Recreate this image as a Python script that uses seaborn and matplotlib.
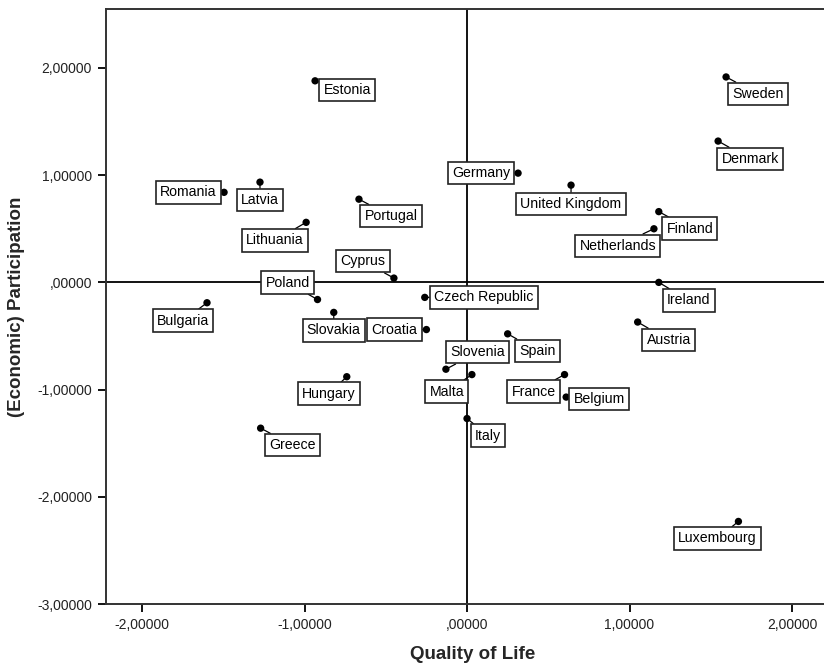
import matplotlib
matplotlib.use("Agg")
import matplotlib.pyplot as plt
import matplotlib.ticker as mticker
import seaborn as sns
import pandas as pd

countries = ["Estonia", "Sweden", "Denmark", "Germany", "Romania", "Latvia",
             "United Kingdom", "Portugal", "Lithuania", "Finland", "Netherlands",
             "Cyprus", "Ireland", "Czech Republic", "Poland", "Bulgaria",
             "Slovakia", "Croatia", "Spain", "Austria", "Slovenia", "Malta",
             "Hungary", "France", "Belgium", "Italy", "Greece", "Luxembourg"]
quality_of_life = [-0.935, 1.594, 1.545, 0.314, -1.495, -1.274,
                   0.640, -0.665, -0.990, 1.180, 1.150,
                   -0.450, 1.180, -0.260, -0.920, -1.600,
                   -0.820, -0.250, 0.250, 1.050, -0.130, 0.030,
                   -0.740, 0.600, 0.610, 0.000, -1.270, 1.670]
participation = [1.88, 1.916, 1.318, 1.019, 0.84, 0.935,
                 0.907, 0.776, 0.56, 0.66, 0.50,
                 0.04, 0.00, -0.14, -0.16, -0.19,
                 -0.28, -0.44, -0.48, -0.37, -0.81, -0.86,
                 -0.88, -0.86, -1.07, -1.27, -1.36, -2.23]
x_ticks = [-2, -1, 0, 1, 2]
y_ticks = [-3, -2, -1, 0, 1, 2]

# label offsets in pixels (dx right, dy up) -- layout only
label_offsets = {
    "Estonia": (32, -9), "Sweden": (32, -17), "Denmark": (32, -18),
    "Germany": (-37, 0), "Romania": (-36, 0), "Latvia": (0, -18),
    "United Kingdom": (0, -19), "Portugal": (32, -17), "Lithuania": (-31, -18),
    "Finland": (31, -17), "Netherlands": (-36, -17), "Cyprus": (-31, 17),
    "Ireland": (30, -18), "Czech Republic": (59, 0), "Poland": (-30, 17),
    "Bulgaria": (-24, -18), "Slovakia": (0, -18), "Croatia": (-32, 0),
    "Spain": (30, -17), "Austria": (31, -18), "Slovenia": (32, 17),
    "Malta": (-25, -17), "Hungary": (-18, -17), "France": (-31, -17),
    "Belgium": (33, -2), "Italy": (21, -17), "Greece": (32, -17),
    "Luxembourg": (-21, -17),
}

df = pd.DataFrame({"Country": countries, "Quality of Life": quality_of_life,
                   "(Economic) Participation": participation})

sns.set_theme(style="ticks")
plt.rcParams["font.family"] = ["Liberation Sans", "DejaVu Sans"]

W, H = 824, 666
fig = plt.figure(figsize=(W / 100, H / 100), dpi=100)
ax = fig.add_axes([106 / W, 62 / H, 734 / W, 595 / H])

ax.axvline(0, color="black", lw=1.3, zorder=1)
ax.axhline(0, color="black", lw=1.3, zorder=1)

sns.scatterplot(data=df, x="Quality of Life", y="(Economic) Participation",
                color="black", s=28, edgecolor="none", ax=ax, zorder=3)

for c, xv, yv in zip(countries, quality_of_life, participation):
    dx, dy = label_offsets[c]
    ax.annotate(c, xy=(xv, yv), xytext=(dx, dy), textcoords="offset pixels",
                ha="center", va="center", fontsize=10.2, color="black",
                bbox=dict(boxstyle="square,pad=0.3", fc="white", ec="#222222", lw=1.2),
                arrowprops=dict(arrowstyle="-", color="black", lw=0.9,
                                shrinkA=0, shrinkB=0),
                zorder=4)

ax.set_xlim(-2.2215, 2.295)
ax.set_ylim(-3.0, 2.55)
ax.set_xticks(x_ticks)
ax.set_yticks(y_ticks)

def fmt(v, pos):
    s = f"{abs(v):.5f}".replace(".", ",")
    if s.startswith("0,"):
        s = s[1:]
    return ("-" if v < 0 else "") + s

ax.xaxis.set_major_formatter(mticker.FuncFormatter(fmt))
ax.yaxis.set_major_formatter(mticker.FuncFormatter(fmt))
ax.tick_params(axis="both", direction="out", length=6, width=1.3,
               labelsize=10, colors="black", labelcolor="#222222", pad=4)
for sp in ax.spines.values():
    sp.set_color("#333333")
    sp.set_linewidth(1.4)

ax.set_xlabel("Quality of Life", fontsize=13.5, fontweight="bold", labelpad=10)
ax.set_ylabel("(Economic) Participation", fontsize=13.5, fontweight="bold", labelpad=9)

fig.savefig("out.png", dpi=100)
